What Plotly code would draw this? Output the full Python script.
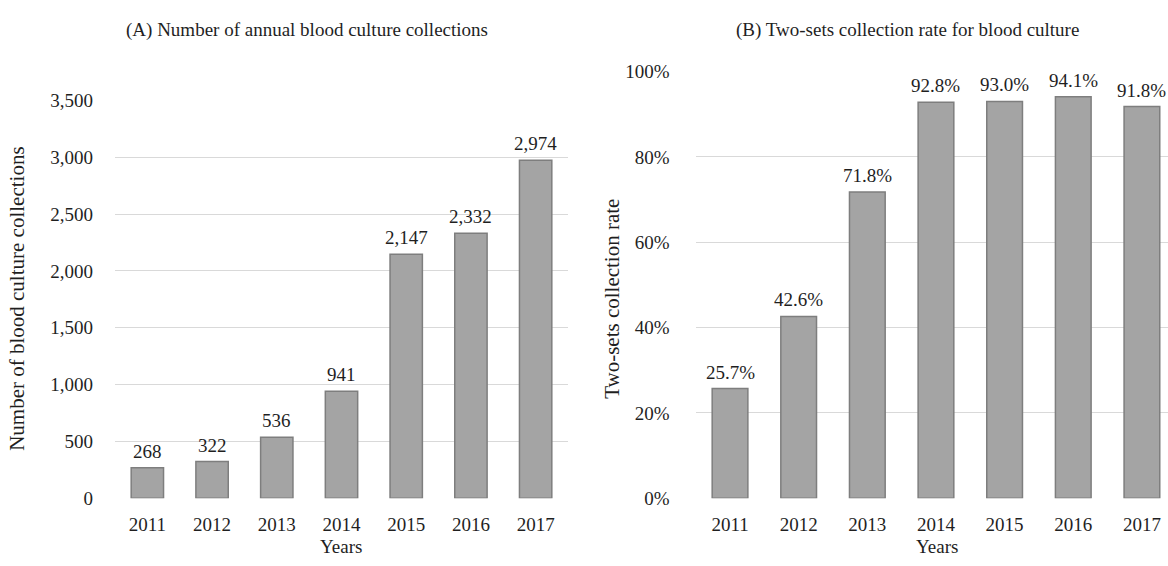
import plotly.graph_objects as go

years = ["2011", "2012", "2013", "2014", "2015", "2016", "2017"]
collections = [268, 322, 536, 941, 2147, 2332, 2974]
collection_labels = ["268", "322", "536", "941", "2,147", "2,332", "2,974"]
two_set_rate = [25.7, 42.6, 71.8, 92.8, 93.0, 94.1, 91.8]
rate_labels = ["25.7%", "42.6%", "71.8%", "92.8%", "93.0%", "94.1%", "91.8%"]
left_ticks = [0, 500, 1000, 1500, 2000, 2500, 3000, 3500]
left_ticktext = ["0", "500", "1,000", "1,500", "2,000", "2,500", "3,000", "3,500"]
right_ticks = [0, 20, 40, 60, 80, 100]
right_ticktext = ["0%", "20%", "40%", "60%", "80%", "100%"]

FONT = "Liberation Serif, Times New Roman, serif"
TXT = "#1f1f1f"
W, H = 1168, 566
FS = 19

def px(x):
    return x / W

def py(y):
    return (H - y) / H

bar_style = dict(color="#a4a4a4", line=dict(color="#7e7e7e", width=1.5))

fig = go.Figure()
fig.add_trace(go.Bar(
    x=years, y=collections, marker=bar_style, width=0.5,
    xaxis="x", yaxis="y", showlegend=False, hoverinfo="x+y"))
fig.add_trace(go.Bar(
    x=years, y=two_set_rate, marker=bar_style, width=0.52,
    xaxis="x2", yaxis="y2", showlegend=False, hoverinfo="x+y"))

# value labels above bars (x given as category index)
for ys, labels, xa, ya in [(collections, collection_labels, "x", "y"),
                           (two_set_rate, rate_labels, "x2", "y2")]:
    for i, (yv, lab) in enumerate(zip(ys, labels)):
        fig.add_annotation(x=i, y=yv, xref=xa, yref=ya, text=lab,
                           showarrow=False, yanchor="bottom", yshift=5,
                           borderpad=0,
                           font=dict(family=FONT, size=FS, color=TXT))

axis_common = dict(showline=False, zeroline=False, ticks="",
                   tickfont=dict(family=FONT, size=FS, color=TXT))

fig.update_layout(
    width=W, height=H,
    margin=dict(l=0, r=0, t=0, b=0),
    plot_bgcolor="white", paper_bgcolor="white",
    font=dict(family=FONT, size=FS, color=TXT),
    xaxis=dict(domain=[px(115), px(568)], range=[-0.5, 6.5], type="category",
               showgrid=False, anchor="y", ticklabelstandoff=13, **axis_common),
    yaxis=dict(domain=[py(507), py(94)], range=[0, 3500], anchor="x",
               tickvals=left_ticks, ticktext=left_ticktext, showgrid=True,
               gridcolor="#d9d9d9", gridwidth=1.2, ticklabelstandoff=21,
               **axis_common),
    xaxis2=dict(domain=[px(695.7), 1.0], range=[-0.5, 6.38], type="category",
                showgrid=False, anchor="y2", ticklabelstandoff=13, **axis_common),
    yaxis2=dict(domain=[py(507), py(64)], range=[0, 100], anchor="x2",
                tickvals=right_ticks, ticktext=right_ticktext, showgrid=True,
                gridcolor="#d9d9d9", gridwidth=1.2, ticklabelstandoff=25,
                **axis_common),
)

annos = [
    dict(text="(A) Number of annual blood culture collections", x=px(307), y=py(21), size=FS),
    dict(text="(B) Two-sets collection rate for blood culture", x=px(907), y=py(21), size=FS),
    dict(text="Years", x=px(341), y=py(557), size=FS),
    dict(text="Years", x=px(937), y=py(557), size=FS),
    dict(text="Number of blood culture collections", x=px(17), y=py(300), textangle=-90, size=21),
    dict(text="Two-sets collection rate", x=px(612), y=py(300), textangle=-90, size=21),
]
for a in annos:
    size = a.pop("size")
    fig.add_annotation(xref="paper", yref="paper", showarrow=False,
                       xanchor="center", yanchor="middle",
                       font=dict(family=FONT, size=size, color=TXT), **a)

fig.write_html("out.html")
